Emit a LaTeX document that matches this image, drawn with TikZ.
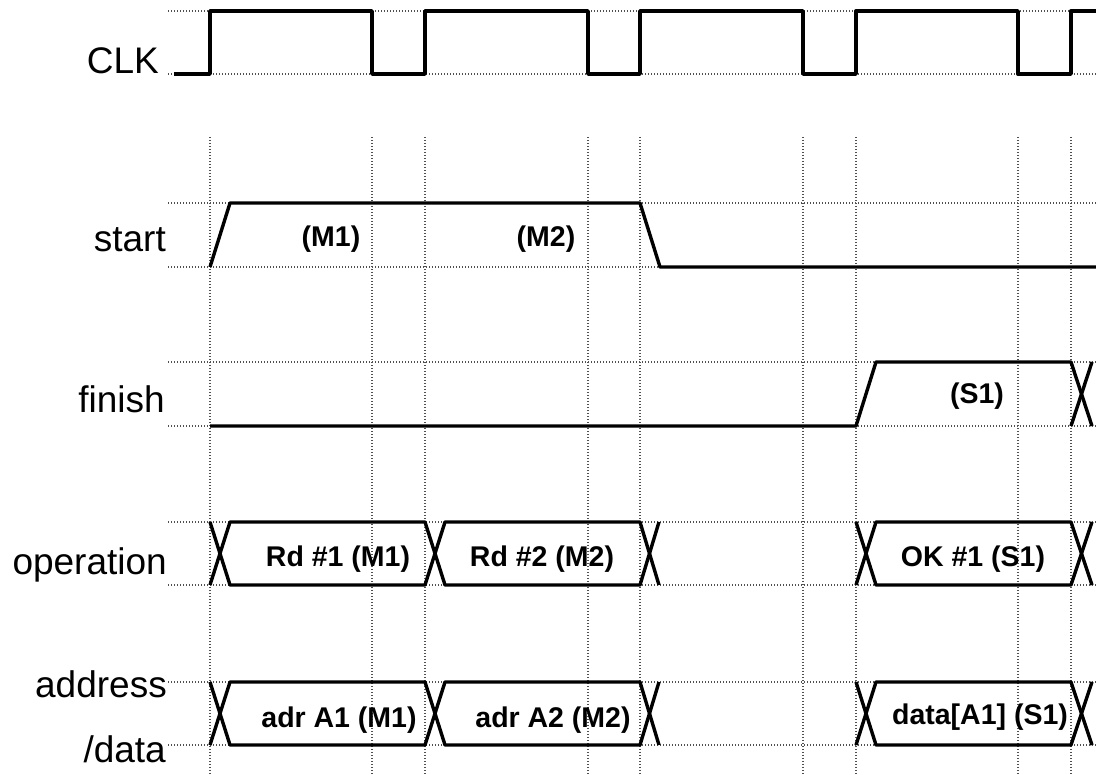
\documentclass[tikz,border=0pt]{standalone}
\usepackage{fontspec}
\setmainfont{Liberation Sans}
\definecolor{gridgray}{HTML}{505050}
\definecolor{wire}{HTML}{000000}

\begin{document}
\begin{tikzpicture}[
    x=1pt, y=-1pt,
    sig/.style={line width=3.4pt, color=wire, line join=round},
    gridline/.style={line width=1.4pt, color=gridgray, dash pattern=on 1.4pt off 1.6pt},
    lbl/.style={anchor=base east, inner sep=0pt, font=\fontsize{37}{40}\selectfont},
    val/.style={anchor=base, inner sep=0pt, font=\fontsize{28.5}{30}\selectfont\bfseries}
  ]
    \useasboundingbox (0,0) rectangle (1096,775);

    % grid
    \draw[gridline] (168,11) -- (1096,11)   (168,74) -- (1096,74);
    \draw[gridline] (168,203) -- (1096,203) (168,267) -- (1096,267);
    \draw[gridline] (168,362) -- (1096,362) (168,426) -- (1096,426);
    \draw[gridline] (168,522) -- (1096,522) (168,585) -- (1096,585);
    \draw[gridline] (168,682) -- (1096,682) (168,745) -- (1096,745);
    \draw[gridline] (210,137) -- (210,775) (372,137) -- (372,775)
                    (425,137) -- (425,775) (588,137) -- (588,775)
                    (640,137) -- (640,775) (803,137) -- (803,775)
                    (856,137) -- (856,775) (1018,137) -- (1018,775)
                    (1071,137) -- (1071,775);

    % signal names
    \node[lbl] (clk)   at (159,74)  {CLK};
    \node[lbl] (start) at (166,252) {start};
    \node[lbl] (fin)   at (165,413) {finish};
    \node[lbl] (oper)  at (167,574) {operation};
    \node[lbl] (addr)  at (167,697) {address};
    \node[lbl] (data)  at (166,762) {/data};

    % clock
    \draw[sig] (174,74) -- (210,74) -- (210,11) -- (372,11) -- (372,74)
      -- (425,74) -- (425,11) -- (588,11) -- (588,74)
      -- (640,74) -- (640,11) -- (803,11) -- (803,74)
      -- (856,74) -- (856,11) -- (1018,11) -- (1018,74)
      -- (1071,74) -- (1071,11) -- (1096,11);

    % start
    \draw[sig] (210,267) -- (230,203) -- (640,203) -- (660,267) -- (1096,267);
    \node[val] (sm1) at (331,247) {(M1)};
    \node[val] (sm2) at (546,247) {(M2)};

    % finish
    \draw[sig] (210,426) -- (856,426) -- (876,362) -- (1071,362) -- (1092,426);
    \draw[sig] (1071,426) -- (1092,362);
    \node[val] (fs1) at (977,404) {(S1)};

    % operation
    \draw[sig] (210,522) -- (230,585) -- (425,585) -- (445,522) -- (640,522) -- (659,585);
    \draw[sig] (210,585) -- (230,522) -- (425,522) -- (445,585) -- (640,585) -- (659,522);
    \draw[sig] (856,522) -- (876,585) -- (1071,585) -- (1092,522);
    \draw[sig] (856,585) -- (876,522) -- (1071,522) -- (1092,585);
    \node[val] (rd1) at (338,567) {Rd \#1 (M1)};
    \node[val] (rd2) at (542,567) {Rd \#2 (M2)};
    \node[val] (ok1) at (973,566) {OK \#1 (S1)};

    % address / data
    \draw[sig] (210,682) -- (230,745) -- (425,745) -- (445,682) -- (640,682) -- (659,745);
    \draw[sig] (210,745) -- (230,682) -- (425,682) -- (445,745) -- (640,745) -- (659,682);
    \draw[sig] (856,682) -- (876,745) -- (1071,745) -- (1092,682);
    \draw[sig] (856,745) -- (876,682) -- (1071,682) -- (1092,745);
    \node[val] (ad1) at (339,727) {adr A1 (M1)};
    \node[val] (ad2) at (553,727) {adr A2 (M2)};
    \node[val] (dt1) at (980,724) {data[A1] (S1)};
\end{tikzpicture}
\end{document}
